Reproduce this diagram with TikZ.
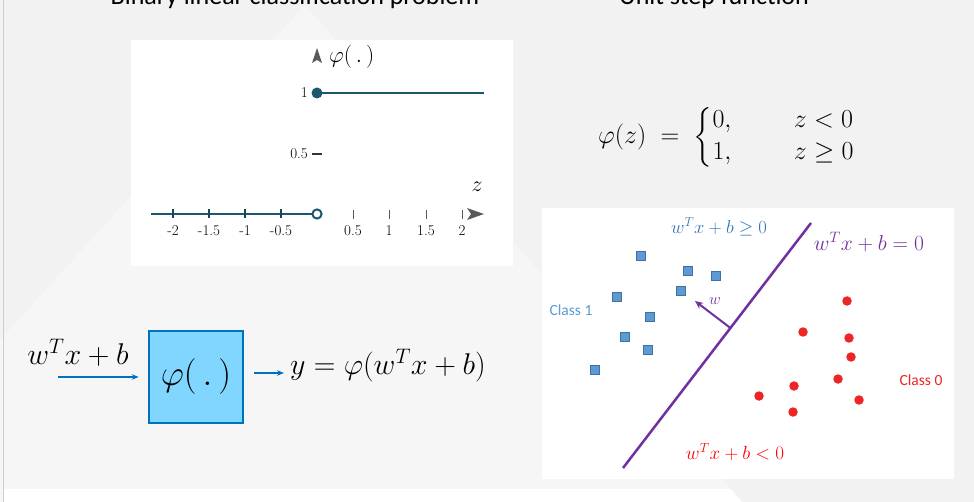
\documentclass[tikz,border=0pt]{standalone}
\usepackage{fix-cm}
\usepackage{amsmath}
\usepackage{fontspec}
\newfontfamily\carlito{Carlito}
\usetikzlibrary{arrows.meta}
\definecolor{bggray}{RGB}{242,242,242}
\definecolor{bglight}{RGB}{246,246,246}
\definecolor{bordergray}{RGB}{205,205,205}
\definecolor{plotteal}{RGB}{27,88,110}
\definecolor{axisgray}{RGB}{90,90,90}
\definecolor{purp}{RGB}{112,48,160}
\definecolor{bluetxt}{RGB}{46,117,182}
\definecolor{classblue}{RGB}{91,155,213}
\definecolor{sqborder}{RGB}{65,113,156}
\definecolor{dotred}{RGB}{237,37,36}
\definecolor{boxfill}{RGB}{128,214,255}
\definecolor{boxline}{RGB}{0,112,192}
\tikzset{
  sq/.style={rectangle, minimum size=9pt, inner sep=0pt, fill=classblue, draw=sqborder, line width=0.6pt},
  rdot/.style={circle, minimum size=9.5pt, inner sep=0pt, fill=dotred},
  ticklab/.style={font=\fontsize{15}{17}\selectfont, text=black},
  arr/.style={draw=boxline, line width=1.4pt, -{Stealth[length=7pt,width=5.5pt]}},
  phibox/.style={rectangle, minimum width=94pt, minimum height=92pt, fill=boxfill, draw=boxline, line width=2.5pt, inner sep=0pt},
  title/.style={font=\carlito\fontsize{26}{30}\selectfont, anchor=base, text=black},
}
\begin{document}
\begin{tikzpicture}[x=1pt,y=-1pt]
\useasboundingbox (0,0) rectangle (974,502);
% background
\fill[bggray] (0,0) rectangle (974,502);
\fill[bglight] (305,5) -- (742,502) -- (0,502) -- (0,340) -- cycle;
\fill[white] (4,489) -- (731,489) -- (742,502) -- (4,502) -- cycle;
\draw[bordergray, line width=1pt] (3.5,0) -- (3.5,502);
% titles (cut off at the top)
\node[title] (t1) at (295,4.5) {Binary linear classification problem};
\node[title] (t2) at (714,4.5) {Unit step function};
% left panel: step plot
\fill[white] (131,40) rectangle (513,266);
\fill[axisgray] (317,48) -- (322,63) -- (317,60) -- (312,63) -- cycle;
\node[anchor=west, font=\fontsize{23}{26}\selectfont, inner sep=0pt] (ylab) at (329,57) {$\varphi(\,.\,)$};
\draw[plotteal, line width=2.5pt] (317,93) -- (484,93);
\fill[plotteal] (317,93) circle (5.5);
\node[ticklab, anchor=east, inner sep=0pt] (one) at (308,93) {1};
\node[ticklab, anchor=east, inner sep=0pt] (half) at (308,154) {0.5};
\draw[black!80, line width=1.5pt] (312,154) -- (322,154);
\node[anchor=base, font=\fontsize{22}{24}\selectfont, inner sep=0pt] (zlab) at (477,192) {$z$};
\draw[plotteal, line width=2.5pt] (151,214) -- (312,214);
\draw[plotteal, line width=2pt, fill=white] (317,214) circle (4.6);
\foreach \x/\l in {173/-2, 209/-1.5, 245/-1, 281/-0.5}{
  \draw[plotteal!80!black, line width=1.2pt] (\x,209.5) -- (\x,218.5);
  \node[ticklab] at (\x,231) {\l};
}
\foreach \x/\l in {353/0.5, 389/1, 426/1.5, 462/2}{
  \draw[axisgray, line width=1pt] (\x,210) -- (\x,219);
  \node[ticklab] at (\x,231) {\l};
}
\fill[axisgray] (484,214) -- (467,208) -- (471,214) -- (467,220) -- cycle;
% formula
\node[anchor=west, font=\fontsize{26}{32}\selectfont, inner sep=0pt] (phiz) at (598,137)
  {$\varphi(z)\;=\;\left\{\renewcommand{\arraystretch}{1}\begin{array}{@{}l@{\hspace{2.4em}}l@{}}0, & z<0\\ 1, & z\geq 0\end{array}\right.$};
% right panel
\fill[white] (542,208) rectangle (954,479);
\coordinate (lineA) at (623,468);
\coordinate (lineB) at (811,223);
\draw[purp, line width=2.5pt] (lineA) -- (lineB);
\coordinate (foot) at (730.4,328);
\coordinate (wtip) at (695,301);
\draw[purp, line width=2pt, -{Stealth[length=8pt,width=7pt]}] (foot) -- (wtip);
\node[text=purp, font=\fontsize{16}{18}\selectfont] (wlab) at (715,301) {$w$};
\node[text=bluetxt, font=\fontsize{18.5}{22}\selectfont] (ge) at (719,227) {$w^Tx+b\geq 0$};
\node[text=purp, font=\fontsize{21.5}{24}\selectfont] (eq) at (869,242) {$w^Tx+b=0$};
\node[text=red, font=\fontsize{19}{22}\selectfont] (lt) at (735,452) {$w^Tx+b<0$};
\node[text=classblue, font=\carlito\fontsize{15.5}{18}\selectfont] (c1) at (571,310) {Class 1};
\node[text=dotred, font=\carlito\fontsize{15.5}{18}\selectfont] (c0) at (921,380) {Class 0};
\foreach \p in {(641,256),(688,271),(716,276),(681,291),(617,297),(650,317),(625,337),(648,350),(595,370)}
  \node[sq] at \p {};
\foreach \p in {(847,301),(803,332),(849,338),(851,357),(838,379),(794,386),(759,396),(859,400),(793,412)}
  \node[rdot] at \p {};
% block diagram
\node[phibox, font=\fontsize{36}{42}\selectfont] (phi) at (196,377) {$\varphi(\,.\,)$};
\node[font=\fontsize{30}{34}\selectfont, inner sep=0pt] (inlab) at (78,353) {$w^Tx+b$};
\coordinate (inS) at (58,377);
\draw[arr, shorten >=9pt] (inS) -- (phi.west);
\node[anchor=west, font=\fontsize{30}{34}\selectfont, inner sep=0pt] (out) at (290,366) {$y=\varphi(w^Tx+b)$};
\coordinate (o1) at (254,373);
\draw[arr, shorten >=6pt] (o1) -- (o1 -| out.west);
\end{tikzpicture}
\end{document}
